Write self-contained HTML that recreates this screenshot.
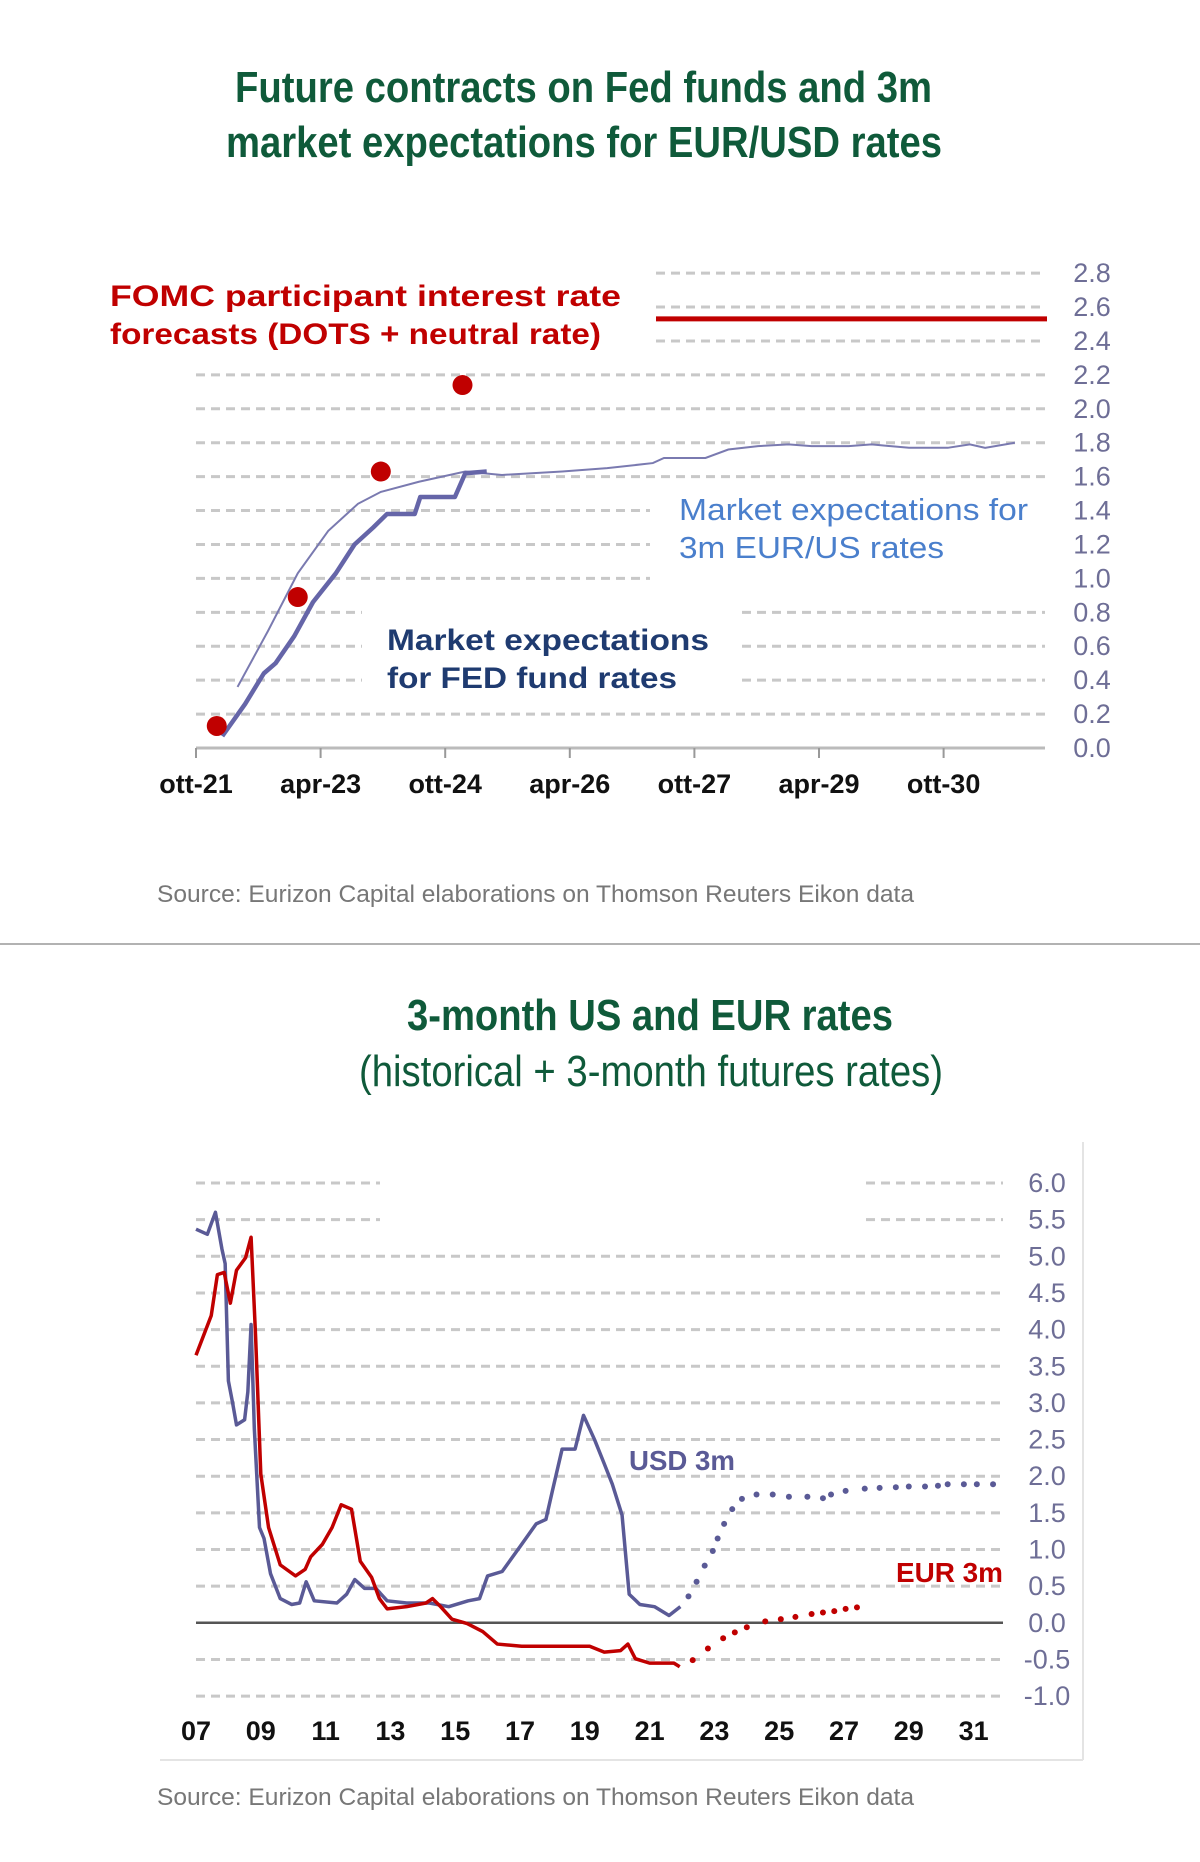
<!DOCTYPE html>
<html><head><meta charset="utf-8"><style>
html,body{margin:0;padding:0;background:#fff;width:1200px;height:1862px;overflow:hidden}
svg{display:block}
text{font-family:"Liberation Sans Narrow","Liberation Sans",sans-serif}
</style></head><body>
<svg id="s" width="1200" height="1862" viewBox="0 0 1200 1862" xmlns="http://www.w3.org/2000/svg">
<g fill="#0f5a3a" font-weight="bold" font-size="44">
<text x="235" y="102" textLength="697" lengthAdjust="spacingAndGlyphs">Future contracts on Fed funds and 3m</text>
<text x="226" y="157" textLength="716" lengthAdjust="spacingAndGlyphs">market expectations for EUR/USD rates</text>
</g>
<g id="c1grid"></g>
<g id="c1"></g>
<g>
<text x="110" y="306" font-size="30" font-weight="bold" fill="#c00000" textLength="511" lengthAdjust="spacingAndGlyphs">FOMC  participant  interest  rate</text>
<text x="110" y="344" font-size="30" font-weight="bold" fill="#c00000" textLength="491" lengthAdjust="spacingAndGlyphs">forecasts (DOTS + neutral rate)</text>
<text x="679" y="520" font-size="31" fill="#4a7fcc" textLength="349" lengthAdjust="spacingAndGlyphs">Market expectations for</text>
<text x="679" y="558" font-size="31" fill="#4a7fcc" textLength="265" lengthAdjust="spacingAndGlyphs">3m EUR/US rates</text>
<text x="387" y="650" font-size="30" font-weight="bold" fill="#1f3b70" textLength="322" lengthAdjust="spacingAndGlyphs">Market expectations</text>
<text x="387" y="688" font-size="30" font-weight="bold" fill="#1f3b70" textLength="290" lengthAdjust="spacingAndGlyphs">for FED fund rates</text>
</g>
<text x="157" y="902" font-size="24" fill="#777" textLength="757" lengthAdjust="spacingAndGlyphs">Source: Eurizon Capital elaborations on Thomson Reuters Eikon data</text>
<line x1="0" y1="944" x2="1200" y2="944" stroke="#999" stroke-width="1.5"/>
<g fill="#0f5a3a" font-size="44">
<text x="407" y="1030" font-weight="bold" textLength="486" lengthAdjust="spacingAndGlyphs">3-month US and EUR rates</text>
<text x="359" y="1086" textLength="584" lengthAdjust="spacingAndGlyphs">(historical + 3-month futures rates)</text>
</g>
<line x1="1083" y1="1142" x2="1083" y2="1760" stroke="#e4e4e4" stroke-width="2"/>
<line x1="160" y1="1760" x2="1083" y2="1760" stroke="#e4e4e4" stroke-width="2"/>
<g id="c2grid"></g>
<g id="c2"></g>
<text x="629" y="1470" font-size="28" font-weight="bold" fill="#5a5a96" textLength="106" lengthAdjust="spacingAndGlyphs">USD 3m</text>
<text x="896" y="1582" font-size="28" font-weight="bold" fill="#c00000" textLength="107" lengthAdjust="spacingAndGlyphs">EUR 3m</text>
<text x="157" y="1805" font-size="24" fill="#777" textLength="757" lengthAdjust="spacingAndGlyphs">Source: Eurizon Capital elaborations on Thomson Reuters Eikon data</text>
</svg>
<script>
// ---- Chart 1 data (x = months since Oct-21) ----
const c1XLabels=["ott-21","apr-23","ott-24","apr-26","ott-27","apr-29","ott-30"];
const c1YTicks=[0,0.2,0.4,0.6,0.8,1.0,1.2,1.4,1.6,1.8,2.0,2.2,2.4,2.6,2.8];
const fedMonths=[3.8,7.1,9.8,11.5,14.2,16.9,20.2,22.9,25.6,27.6,31.6,32.4,37.4,38.9,42];
const fedValues=[0.07,0.26,0.44,0.5,0.66,0.86,1.03,1.2,1.3,1.38,1.38,1.48,1.48,1.62,1.63];
const eurusMonths=[6,10.4,14.7,19.1,23.4,26.7,32.2,38.9,44.2,52.9,59.4,66,67.6,73.6,76.9,81.2,85.6,88.9,94.3,97.6,103,108.6,111.8,114,118.3];
const eurusValues=[0.36,0.69,1.03,1.28,1.44,1.51,1.57,1.63,1.61,1.63,1.65,1.68,1.71,1.71,1.76,1.78,1.79,1.78,1.78,1.79,1.77,1.77,1.79,1.77,1.8];
const dotMonths=[3,14.7,26.7,38.5];
const dotValues=[0.13,0.89,1.63,2.14];
const neutralRate=[2.53];
// ---- Chart 2 data (x = year) ----
const c2XLabels=["07","09","11","13","15","17","19","21","23","25","27","29","31"];
const c2YTicks=[6.0,5.5,5.0,4.5,4.0,3.5,3.0,2.5,2.0,1.5,1.0,0.5,0.0,-0.5,-1.0];
const usdYears=[2007.0,2007.35,2007.6,2007.8,2007.9,2008.0,2008.13,2008.25,2008.5,2008.6,2008.7,2008.8,2008.96,2009.1,2009.3,2009.6,2009.95,2010.2,2010.4,2010.65,2011.35,2011.65,2011.9,2012.2,2012.55,2012.9,2013.5,2014.2,2014.8,2015.4,2015.75,2016.0,2016.45,2017.05,2017.5,2017.8,2018.0,2018.3,2018.7,2018.96,2019.3,2019.6,2019.85,2020.15,2020.37,2020.7,2021.15,2021.6,2021.95];
const usdValues=[5.37,5.3,5.6,5.1,4.9,3.3,3.0,2.7,2.77,3.15,4.07,2.65,1.3,1.15,0.67,0.33,0.25,0.27,0.56,0.3,0.27,0.39,0.59,0.47,0.47,0.3,0.27,0.27,0.22,0.3,0.33,0.64,0.7,1.07,1.35,1.41,1.8,2.37,2.37,2.83,2.5,2.17,1.89,1.47,0.39,0.25,0.22,0.1,0.22];
const usdFutYears=[2022.2,2022.45,2022.7,2022.95,2023.1,2023.3,2023.55,2023.85,2024.3,2024.8,2025.3,2025.87,2026.35,2026.6,2027.05,2027.64,2028.1,2028.6,2029.0,2029.5,2029.9,2030.2,2030.7,2031.1,2031.6];
const usdFutValues=[0.36,0.56,0.78,0.98,1.15,1.35,1.55,1.69,1.75,1.75,1.72,1.72,1.7,1.75,1.8,1.83,1.84,1.85,1.86,1.86,1.87,1.89,1.89,1.89,1.89];
const eurYears=[2007.0,2007.47,2007.66,2007.87,2008.06,2008.25,2008.53,2008.7,2008.84,2009.0,2009.24,2009.6,2010.07,2010.37,2010.54,2010.9,2011.2,2011.48,2011.8,2012.07,2012.42,2012.66,2012.9,2013.5,2014.1,2014.3,2014.55,2014.9,2015.37,2015.85,2016.3,2017.05,2018.45,2019.15,2019.6,2020.1,2020.33,2020.56,2021.0,2021.75,2021.93];
const eurValues=[3.65,4.19,4.75,4.78,4.36,4.81,4.98,5.26,3.9,2.03,1.3,0.79,0.64,0.73,0.9,1.07,1.3,1.61,1.55,0.84,0.62,0.33,0.19,0.22,0.27,0.33,0.22,0.05,-0.01,-0.12,-0.29,-0.32,-0.32,-0.32,-0.4,-0.38,-0.29,-0.49,-0.55,-0.55,-0.6];
const eurFutYears=[2022.33,2022.8,2023.27,2023.63,2024.0,2024.57,2025.05,2025.5,2026.0,2026.35,2026.7,2027.05,2027.4];
const eurFutValues=[-0.51,-0.35,-0.21,-0.13,-0.06,0.02,0.05,0.08,0.12,0.14,0.16,0.19,0.21];

const NS="http://www.w3.org/2000/svg";
function mk(tag,attrs,parent){const e=document.createElementNS(NS,tag);for(const k in attrs)e.setAttribute(k,attrs[k]);parent.appendChild(e);return e;}
// chart1 scales
const x1=m=>196+m*124.6/18, y1=v=>748-v*169.6;
const x2=yr=>196+(yr-2007)*32.4, y2=v=>1622.8-v*73.3;

// Chart1 grid
const g1=document.getElementById('c1grid'), p1=document.getElementById('c1');
c1YTicks.forEach(v=>{
  let segs;
  if(v>=2.4)segs=[[656,1045]];
  else if(v>=0.99&&v<=1.41)segs=[[196,650]];
  else if(v>=0.39&&v<=0.81)segs=[[196,362],[742,1045]];
  else if(v===0)segs=[];
  else segs=[[196,1045]];
  segs.forEach(s=>{
    const l=mk('line',{x1:s[0],x2:s[1],y1:y1(v),y2:y1(v),stroke:'#c8c8c8','stroke-width':3,'stroke-dasharray':'9 6'},g1);
    
    
  });
  const t=mk('text',{x:1092,y:y1(v)+9,'text-anchor':'middle','font-size':27,fill:'#6e6e96'},g1);
  t.textContent=v.toFixed(1);
  
  
});
const ax1=mk('line',{x1:196,x2:1045,y1:748,y2:748,stroke:'#bbb','stroke-width':3},g1);


c1XLabels.forEach((lab,i)=>{
  const x=x1(i*18);
  const tk=mk('line',{x1:x,x2:x,y1:748,y2:758,stroke:'#999','stroke-width':2},g1);
  
  
  const t=mk('text',{x:x,y:793,'text-anchor':'middle','font-size':27,'font-weight':'bold',fill:'#111'},g1);
  t.textContent=lab;
  
  
});
// neutral rate
const nr=mk('line',{x1:656,x2:1047,y1:y1(neutralRate[0]),y2:y1(neutralRate[0]),stroke:'#c00000','stroke-width':5},p1);


// thin line
const thin=mk('polyline',{points:eurusMonths.map((m,i)=>x1(m)+','+y1(eurusValues[i])).join(' '),fill:'none',stroke:'#7a7ab0','stroke-width':2},p1);


const fed=mk('polyline',{points:fedMonths.map((m,i)=>x1(m)+','+y1(fedValues[i])).join(' '),fill:'none',stroke:'#6565a8','stroke-width':4.5,'stroke-linejoin':'round'},p1);


dotMonths.forEach((m,i)=>{
  const c=mk('circle',{cx:x1(m),cy:y1(dotValues[i]),r:10,fill:'#c00000'},p1);
  
  
});

// Chart2 grid
const g2=document.getElementById('c2grid'), p2=document.getElementById('c2');
c2YTicks.forEach(v=>{
  if(v!==0){
    const segs=v>=5.4?[[196,380],[866,1003]]:[[196,1003]];
    segs.forEach(s=>{
      const l=mk('line',{x1:s[0],x2:s[1],y1:y2(v),y2:y2(v),stroke:'#c8c8c8','stroke-width':3,'stroke-dasharray':'9 6'},g2);
      
      
    });
  }
  const t=mk('text',{x:1047,y:y2(v)+9,'text-anchor':'middle','font-size':27,fill:'#6e6e96'},g2);
  t.textContent=v.toFixed(1);
  
  
});
const z=mk('line',{x1:196,x2:1003,y1:y2(0),y2:y2(0),stroke:'#555','stroke-width':2.5},g2);


c2XLabels.forEach((lab,i)=>{
  const t=mk('text',{x:x2(2007+i*2),y:1740,'text-anchor':'middle','font-size':27,'font-weight':'bold',fill:'#111'},g2);
  t.textContent=lab;
  
  
});
const usd=mk('polyline',{points:usdYears.map((y,i)=>x2(y)+','+y2(usdValues[i])).join(' '),fill:'none',stroke:'#5a5a96','stroke-width':3.5,'stroke-linejoin':'round'},p2);


const eur=mk('polyline',{points:eurYears.map((y,i)=>x2(y)+','+y2(eurValues[i])).join(' '),fill:'none',stroke:'#c00000','stroke-width':3.5,'stroke-linejoin':'round'},p2);


usdFutYears.forEach((y,i)=>{
  const c=mk('circle',{cx:x2(y),cy:y2(usdFutValues[i]),r:3,fill:'#5a5a96'},p2);
  
  
});
eurFutYears.forEach((y,i)=>{
  const c=mk('circle',{cx:x2(y),cy:y2(eurFutValues[i]),r:3,fill:'#c00000'},p2);
  
  
});
</script>
</body></html>
